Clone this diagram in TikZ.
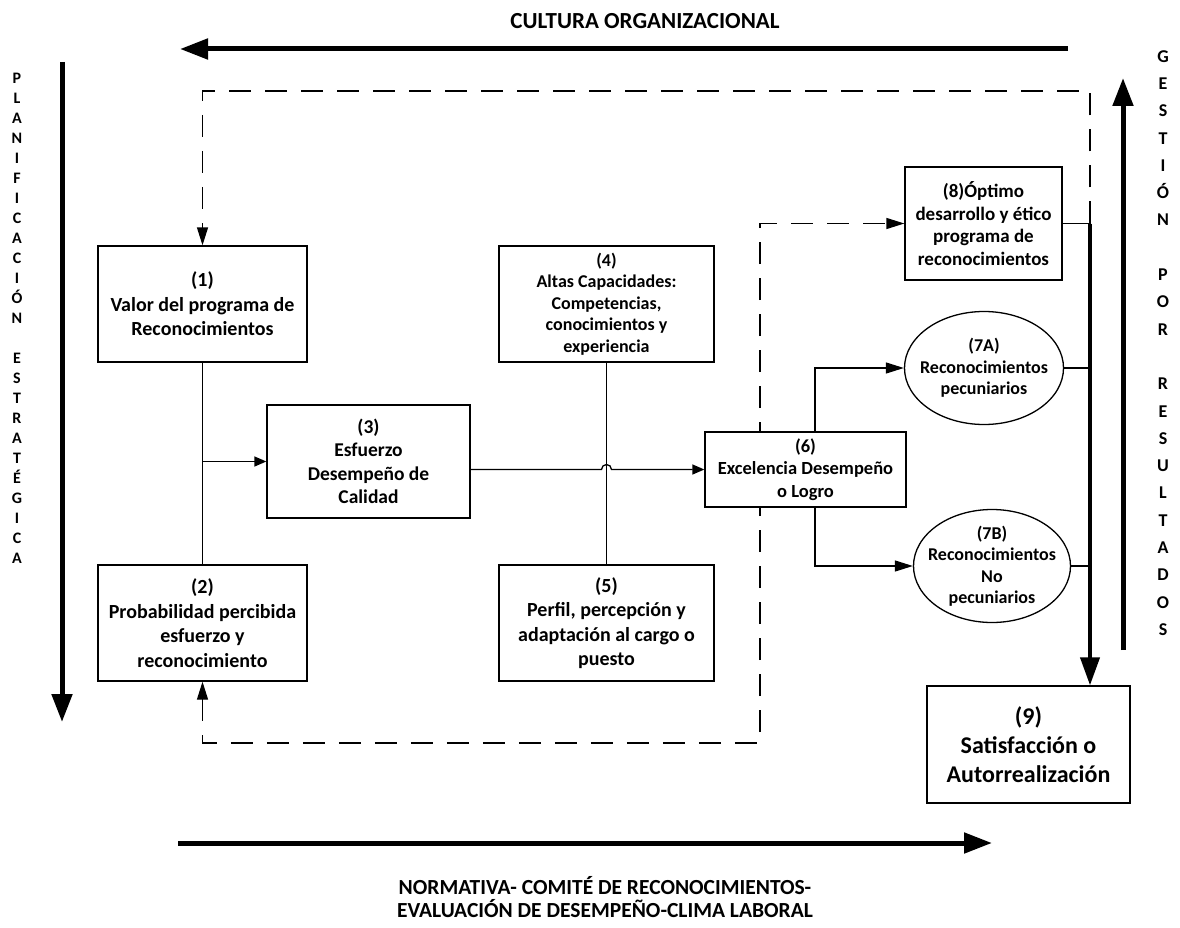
\documentclass[tikz,border=0pt]{standalone}
\usepackage{fontspec}
\setmainfont{Carlito}
\usetikzlibrary{arrows.meta,backgrounds,shapes.geometric}

\newcommand{\fs}[2]{\bfseries\fontsize{#1}{#2}\selectfont}

\begin{document}
\begin{tikzpicture}[x=1pt,y=-1pt,
  box/.style={draw, line width=1.3pt, fill=white, rectangle, align=center, inner sep=0pt},
  oval/.style={draw, ellipse, line width=1.3pt, fill=white, inner sep=0pt},
  lbl/.style={align=center, inner sep=0pt},
  link/.style={line width=1.3pt},
  tip/.tip={Triangle[length=18pt,width=11pt]},
  stip/.tip={Triangle[length=12pt,width=10pt]},
  linkarrow/.style={link, -tip},
  shortarrow/.style={link, -stip},
  dashlink/.style={link, dash pattern=on 22pt off 14pt},
  bigarrow/.style={line width=5pt, -{Triangle[length=28pt,width=20pt]}},
]
\useasboundingbox (0,0) rectangle (1180,928);

% ---------- boxes ----------
\node[box, minimum width=209pt, minimum height=116pt, font=\fs{20}{24.5}] (b1) at (202.5,304)
  {(1)\\Valor del programa de\\Reconocimientos};
\node[box, minimum width=209pt, minimum height=116pt, font=\fs{20}{24.5}] (b2) at (202.5,623)
  {(2)\\Probabilidad percibida\\esfuerzo y\\reconocimiento};
\node[box, minimum width=203pt, minimum height=113pt, font=\fs{19.5}{23.5}] (b3) at (368.5,461.5)
  {(3)\\Esfuerzo\\Desempeño de\\Calidad};
\node[box, minimum width=215pt, minimum height=116pt, font=\fs{18}{21.5}] (b4) at (606.5,304)
  {(4)\\Altas Capacidades:\\Competencias,\\conocimientos y\\experiencia};
\node[box, minimum width=215pt, minimum height=116pt, font=\fs{20}{24.5}] (b5) at (606.5,623)
  {(5)\\Perfil, percepción y\\adaptación al cargo o\\puesto};
\node[box, minimum width=201pt, minimum height=75pt, font=\fs{18.5}{22.5}] (b6) at (805.5,469.5)
  {(6)\\Excelencia Desempeño\\o Logro};
\node[box, minimum width=157pt, minimum height=113pt, font=\fs{19}{22.5}] (b8) at (983.5,223.5)
  {(8)Óptimo\\desarrollo y ético\\programa de\\reconocimientos};
\node[box, minimum width=203pt, minimum height=117pt, font=\fs{24}{29}] (b9) at (1028.5,744.5)
  {(9)\\Satisfacción o\\Autorrealización};

% ---------- ovals ----------
\node[oval, minimum width=159pt, minimum height=113pt] (e7a) at (984,368) {};
\node[lbl, font=\fs{18}{21.5}] (t7a) at (e7a.center) {(7A)\\Reconocimientos\\pecuniarios};
\node[oval, minimum width=157pt, minimum height=113pt] (e7b) at (992,566) {};
\node[lbl, font=\fs{18}{21.5}] (t7b) at (e7b.center) {(7B)\\Reconocimientos\\No\\pecuniarios};

% ---------- helper points ----------
\coordinate (rt) at (1090,223.5);     % top of the collecting rail
\coordinate (dtop) at (202.5,91);     % upper feedback corner
\coordinate (dbot) at (202.5,743);    % lower feedback corner
\coordinate (dmid) at (760,743);
\coordinate (hop) at (b4.south |- b6.west);

% ---------- dashed feedback loops ----------
\begin{scope}[on background layer]
  \draw[dashlink, -tip] (rt) |- (dtop) -- (b1.north);
  \draw[dashlink, tip-tip] (b2.south) -- (dbot) -- (dmid) -- (dmid |- b8.west) -- (b8.west);
\end{scope}

% ---------- solid connectors ----------
\draw[link] (b1.south) -- (b2.north);
\draw[shortarrow] (b1.south |- b3.west) -- (b3.west);
\draw[link] (b4.south) -- (b5.north);
\draw[shortarrow] (b3.east |- b6.west) -- ([xshift=-5pt]hop)
  arc[start angle=180, end angle=0, radius=5pt] -- (b6.west);
\draw[linkarrow] ([xshift=9.5pt]b6.north) |- (e7a.west);
\draw[linkarrow] ([xshift=9.5pt]b6.south) |- (e7b.west);
\draw[link] (b8.east) -- (rt);
\draw[link] (e7a.east) -- (rt |- e7a.east);
\draw[link] (e7b.east) -- (rt |- e7b.east);
\draw[line width=4pt, -{Triangle[length=28pt,width=19pt]}] (rt) -- (rt |- b9.north);

% ---------- framing arrows ----------
\coordinate (topA) at (1068,49);   \coordinate (topB) at (180,49);
\coordinate (leftA) at (62,62);    \coordinate (leftB) at (62,722);
\coordinate (rightA) at (1123,650); \coordinate (rightB) at (1123,78);
\coordinate (botA) at (178,843);   \coordinate (botB) at (992,843);
\draw[bigarrow] (topA) -- (topB);
\draw[bigarrow] (leftA) -- (leftB);
\draw[bigarrow] (rightA) -- (rightB);
\draw[bigarrow] (botA) -- (botB);

% ---------- framing labels ----------
\node[lbl, font=\fs{23}{27}] (cult) at (645,21) {CULTURA ORGANIZACIONAL};
\node[lbl, font=\fs{21.5}{23}] (norm) at (605,897)
  {NORMATIVA- COMITÉ DE RECONOCIMIENTOS-\\EVALUACIÓN DE DESEMPEÑO-CLIMA LABORAL};
\node[lbl, font=\fs{16}{20}] (plan) at (17,318)
  {P\\L\\A\\N\\I\\F\\I\\C\\A\\C\\I\\Ó\\N\\~\\E\\S\\T\\R\\A\\T\\É\\G\\I\\C\\A};
\node[lbl, font=\fs{18}{27.3}] (gest) at (1163,343)
  {G\\E\\S\\T\\I\\Ó\\N\\~\\P\\O\\R\\~\\R\\E\\S\\U\\L\\T\\A\\D\\O\\S};
\end{tikzpicture}
\end{document}
